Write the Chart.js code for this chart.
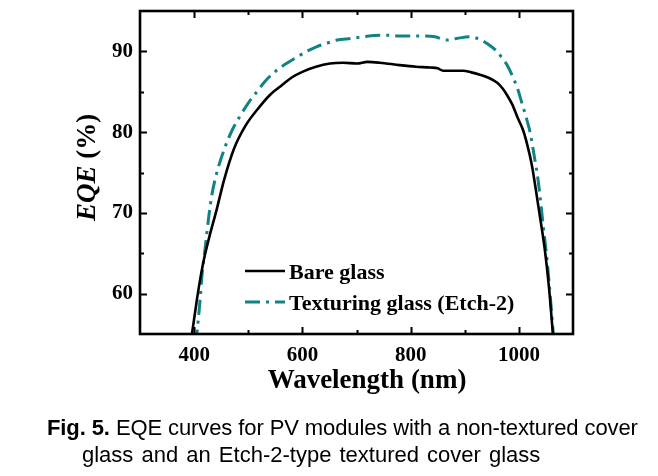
<!DOCTYPE html>
<html>
<head>
<meta charset="utf-8">
<script src="https://cdn.jsdelivr.net/npm/chart.js@4.4.1/dist/chart.umd.min.js"></script>
<style>
  html, body { margin: 0; padding: 0; background: #fff; }
  #wrap { position: relative; width: 658px; height: 476px; overflow: hidden; }
  canvas { position: absolute; left: 0; top: 0; }
  .cap { position: absolute; font-family: "Liberation Sans", Arial, sans-serif; font-size: 22px; line-height: 22px; color: #000; white-space: nowrap; }
</style>
</head>
<body>
<div id="wrap">
  <canvas id="c" width="658" height="476"></canvas>
  <div class="cap" style="left:47px; top:417px; letter-spacing:-0.1px;"><b>Fig. 5.</b> EQE curves for PV modules with a non-textured cover</div>
  <div class="cap" style="left:82px; top:444px; word-spacing:2px;">glass and an Etch-2-type textured cover glass</div>
</div>
<script>
// ---- data ----
const wavelengthLabels = [400, 600, 800, 1000];
const eqeLabels = [60, 70, 80, 90];

const seriesNames = ['Bare glass', 'Texturing glass (Etch-2)'];

const bareWl  = [394, 396, 405, 411, 418, 428, 442, 455, 474, 495, 518, 540, 562, 581, 601, 625, 651, 675, 701, 720, 743, 780, 810, 836, 850, 860, 897, 912, 928, 945, 960, 970, 978, 988, 997, 1008, 1016, 1024, 1036, 1048, 1056, 1063, 1065];
const bareEqe = [54.0, 55.0, 59.2, 61.7, 64.2, 67.0, 70.5, 74.0, 78.0, 80.8, 82.9, 84.6, 85.8, 86.8, 87.5, 88.1, 88.5, 88.6, 88.5, 88.7, 88.6, 88.3, 88.1, 88.0, 87.9, 87.6, 87.6, 87.4, 87.1, 86.7, 86.1, 85.4, 84.6, 83.4, 81.9, 80.2, 78.3, 75.9, 70.8, 65.4, 60.5, 55.0, 53.8];

const texWl  = [403, 405, 411, 415, 420, 427, 433, 440, 458, 470, 485, 500, 516, 530, 546, 568, 590, 608, 627, 645, 664, 690, 712, 743, 760, 780, 823, 845, 866, 885, 908, 928, 945, 958, 969, 980, 989, 998, 1006, 1014, 1021, 1028, 1036, 1045, 1052, 1058, 1063, 1065];
const texEqe = [53.7, 55.0, 59.2, 62.6, 65.4, 69.5, 72.3, 74.5, 78.3, 80.2, 82.0, 83.6, 85.0, 86.2, 87.3, 88.4, 89.3, 90.0, 90.6, 91.0, 91.4, 91.6, 91.8, 92.0, 92.0, 91.9, 91.9, 91.8, 91.4, 91.6, 91.8, 91.5, 90.8, 90.1, 89.2, 88.1, 86.8, 85.3, 83.5, 81.7, 79.9, 77.2, 73.8, 68.4, 64.2, 59.7, 55.5, 53.8];

const toPoints = (xs, ys) => xs.map((x, i) => ({ x: x, y: ys[i] }));

const TEAL = '#138282';
const SERIF = '"Liberation Serif", "Times New Roman", serif';

const framePlugin = {
  id: 'frame',
  afterDatasetsDraw(chart) {
    const { ctx, chartArea: a, scales } = chart;
    ctx.save();
    ctx.strokeStyle = '#000';
    ctx.lineWidth = 2;
    ctx.lineCap = 'butt';
    const xs = scales.x, ys = scales.y;
    for (let v = 400; v <= 1000; v += 100) {
      const px = Math.round(xs.getPixelForValue(v)) + 0.5;
      const len = (v % 200 === 0) ? 7 : 4;
      ctx.beginPath();
      ctx.moveTo(px, a.bottom); ctx.lineTo(px, a.bottom - len);
      ctx.moveTo(px, a.top); ctx.lineTo(px, a.top + len);
      ctx.stroke();
    }
    for (let v = 60; v <= 90; v += 5) {
      const py = Math.round(ys.getPixelForValue(v)) + 0.5;
      const len = (v % 10 === 0) ? 7 : 4;
      ctx.beginPath();
      ctx.moveTo(a.left, py); ctx.lineTo(a.left + len, py);
      ctx.moveTo(a.right, py); ctx.lineTo(a.right - len, py);
      ctx.stroke();
    }
    ctx.lineWidth = 2.6;
    ctx.strokeRect(a.left, a.top, a.right - a.left, a.bottom - a.top);
    ctx.restore();
  },
  afterDraw(chart) {
    const { ctx } = chart;
    const ds = chart.data.datasets;
    ctx.save();
    ctx.fillStyle = '#000';
    ctx.font = 'bold 27px ' + SERIF;
    ctx.textAlign = 'center';
    ctx.textBaseline = 'alphabetic';
    ctx.fillText('Wavelength (nm)', 367, 388);
    ctx.save();
    ctx.translate(95, 167.5);
    ctx.rotate(-Math.PI / 2);
    ctx.textAlign = 'left';
    const fIt = 'italic bold 27px ' + SERIF;
    const fB = 'bold 27px ' + SERIF;
    ctx.font = fIt; const w1 = ctx.measureText('EQE').width;
    ctx.font = fB; const w2 = ctx.measureText(' (%)').width;
    const x0 = -(w1 + w2) / 2;
    ctx.font = fIt; ctx.fillText('EQE', x0, 0);
    ctx.font = fB; ctx.fillText(' (%)', x0 + w1, 0);
    ctx.restore();
    ctx.font = 'bold 22px ' + SERIF;
    ctx.textAlign = 'left';
    const rows = [271, 302];
    ds.forEach((d, i) => {
      const y = rows[i];
      ctx.save();
      ctx.strokeStyle = d.borderColor;
      ctx.lineWidth = d.borderWidth;
      ctx.setLineDash(d.borderDash || []);
      ctx.beginPath();
      ctx.moveTo(245, y); ctx.lineTo(285, y);
      ctx.stroke();
      ctx.restore();
      ctx.fillText(d.label, 289, y + 8);
    });
    ctx.restore();
  }
};

new Chart(document.getElementById('c'), {
  type: 'line',
  data: {
    datasets: [
      { label: seriesNames[0], data: toPoints(bareWl, bareEqe), borderColor: '#000', borderWidth: 2.6,
        pointRadius: 0, fill: false, tension: 0.3, cubicInterpolationMode: 'monotone', clip: 0 },
      { label: seriesNames[1], data: toPoints(texWl, texEqe), borderColor: TEAL, borderWidth: 3,
        borderDash: [15, 6, 3, 6], pointRadius: 0, fill: false, tension: 0.3, cubicInterpolationMode: 'monotone', clip: 0 }
    ]
  },
  options: {
    responsive: false,
    animation: false,
    devicePixelRatio: 1,
    layout: { padding: { left: 0, top: 11, right: 85, bottom: 0 } },
    plugins: { legend: { display: false }, tooltip: { enabled: false }, title: { display: false } },
    scales: {
      x: {
        type: 'linear', min: 300, max: 1100,
        grid: { display: false, drawTicks: false },
        border: { display: false },
        ticks: {
          stepSize: 100, autoSkip: false, maxRotation: 0, padding: 9, color: '#000',
          font: { family: SERIF, weight: 'bold', size: 21 },
          callback: v => wavelengthLabels.includes(v) ? String(v) : ''
        },
        afterFit: s => { s.height = 476 - 334; s.paddingLeft = 0; s.paddingRight = 0; }
      },
      y: {
        type: 'linear', min: 55, max: 95,
        grid: { display: false, drawTicks: false },
        border: { display: false },
        ticks: {
          stepSize: 5, autoSkip: false, padding: 7, color: '#000',
          font: { family: SERIF, weight: 'bold', size: 21 },
          callback: v => eqeLabels.includes(v) ? String(v) : ''
        },
        afterFit: s => { s.width = 140; s.paddingTop = 0; s.paddingBottom = 0; }
      }
    }
  },
  plugins: [framePlugin]
});
</script>
</body>
</html>
